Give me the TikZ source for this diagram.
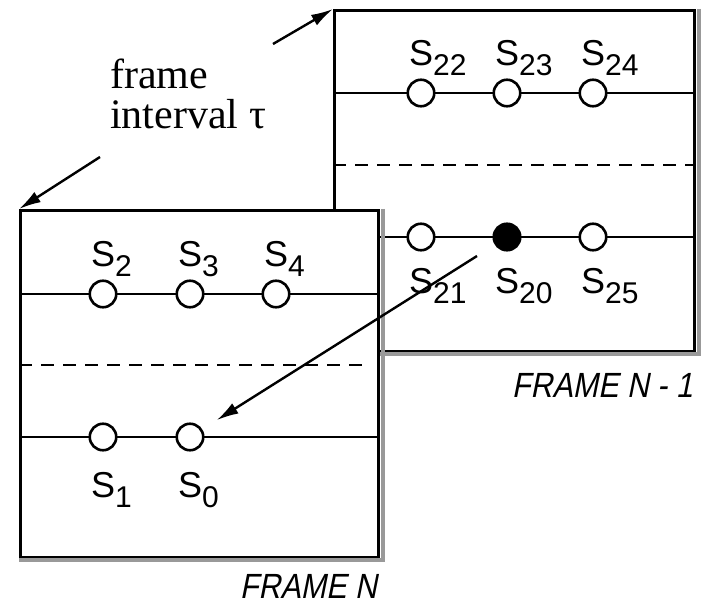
\documentclass[tikz,border=0pt]{standalone}
\usepackage{fontspec}
\usetikzlibrary{arrows.meta}
\setmainfont{Liberation Serif}
\setsansfont{Liberation Sans}
\newfontfamily\captionfont[FakeSlant=0.2,FakeStretch=0.87]{Liberation Sans}
\newcommand{\slotname}[1]{S\raisebox{-10pt}{\fontsize{30}{30}\selectfont #1}}
\tikzset{
  framebox/.style={rectangle, draw=black, fill=white, line width=2.6pt,
                   inner sep=0pt, anchor=north west},
  shade/.style={draw=black!40, line width=4pt},
  row/.style={line width=2.6pt},
  divider/.style={line width=2.6pt, dash pattern=on 13pt off 9pt},
  slot/.style={circle, draw=black, fill=white, line width=2.6pt,
               minimum size=26.5pt, inner sep=0pt},
  hit/.style={slot, fill=black},
  lab/.style={font=\sffamily\fontsize{36}{36}\selectfont, inner sep=0pt, anchor=base west},
  caption/.style={font=\captionfont\fontsize{35}{35}\selectfont, inner sep=0pt, anchor=base east},
  note/.style={font=\fontsize{42}{40}\selectfont, align=left, inner sep=0pt, anchor=north west},
  arrow/.style={-{Latex[length=22pt,width=12pt]}, line width=2.4pt},
}

\begin{document}
\begin{tikzpicture}[x=1pt, y=-1pt]
  \useasboundingbox (0,0) rectangle (702,604);

  % frame N-1
  \node[framebox, minimum width=360pt, minimum height=341pt] (prev) at (333,9) {};
  \draw[row] (333,93) -- (693,93);
  \draw[divider] (333,165) -- (693,165);
  \draw[row] (333,237) -- (693,237);
  \foreach \x/\n in {421/22, 507/23, 593/24} {
    \node[slot] (s\n) at (\x,93) {};
    \node[lab] at ([xshift=-12pt, yshift=27pt]s\n.center) {\slotname{\n}};
  }
  \node[slot] (s21) at (421,237) {};
  \node[hit] (s20) at (507,237) {};
  \node[slot] (s25) at (593,237) {};
  \foreach \n in {21, 20, 25}
    \node[lab] at ([xshift=-12pt, yshift=-57pt]s\n.center) {\slotname{\n}};
  \draw[shade] ([xshift=3pt]prev.north east) -- ([xshift=3pt, yshift=-1pt]prev.south east)
    -- ([yshift=-1pt]prev.south west);
  \node[caption] (capprev) at (693,397) {FRAME N - 1};

  % frame N
  \node[framebox, minimum width=358pt, minimum height=347pt] (cur) at (19,209) {};
  \draw[row] (19,294) -- (377,294);
  \draw[divider] (19,365) -- (367,365);
  \draw[row] (19,437) -- (377,437);
  \foreach \x/\n in {103/2, 190/3, 276/4} {
    \node[slot] (s\n) at (\x,294) {};
    \node[lab] at ([xshift=-12pt, yshift=27pt]s\n.center) {\slotname{\n}};
  }
  \foreach \x/\n in {103/1, 190/0} {
    \node[slot] (s\n) at (\x,437) {};
    \node[lab] at ([xshift=-12pt, yshift=-60pt]s\n.center) {\slotname{\n}};
  }
  \draw[shade] ([xshift=3pt]cur.north east) -- ([xshift=3pt, yshift=-1pt]cur.south east)
    -- ([yshift=-1pt]cur.south west);
  \node[caption] (capcur) at (377,598) {FRAME N};

  % interval and motion
  \node[note] (interval) at (110,59) {frame\\interval τ};
  \coordinate (gapA) at (273,44);
  \coordinate (gapB) at (100,157);
  \draw[arrow] (gapA) -- (prev.north west);
  \draw[arrow] (gapB) -- (cur.north west);
  \coordinate (pick) at (477,256);
  \draw[arrow, shorten >=17pt] (pick) -- (s0);
\end{tikzpicture}
\end{document}
